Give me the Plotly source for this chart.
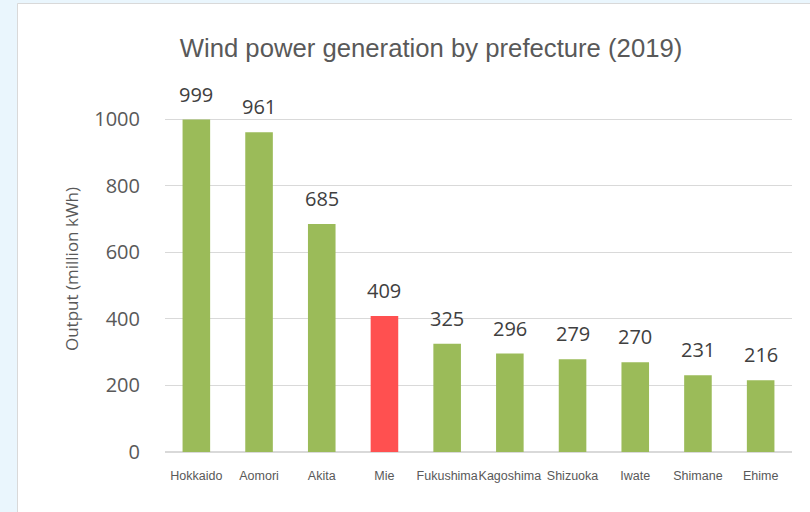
import plotly.graph_objects as go

prefectures = ["Hokkaido", "Aomori", "Akita", "Mie", "Fukushima", "Kagoshima",
               "Shizuoka", "Iwate", "Shimane", "Ehime"]
output_million_kwh = [999, 961, 685, 409, 325, 296, 279, 270, 231, 216]
highlight = "Mie"
y_ticks = [0, 200, 400, 600, 800, 1000]

GREEN = "#9BBB59"
RED = "#FF5050"
colors = [RED if p == highlight else GREEN for p in prefectures]

W, H = 810, 512
L, R, T, B = 165, 18, 86, 60
pw, ph = W - L - R, H - T - B

def fx(px):
    return (px - L) / pw

def fy(py):
    return (H - B - py) / ph

fig = go.Figure(go.Bar(
    x=prefectures,
    y=output_million_kwh,
    marker=dict(color=colors, line=dict(width=0)),
    width=0.44,
))

annotations = [
    dict(x=p, y=v, xref="x", yref="y", text=str(v), showarrow=False,
         yanchor="bottom", yshift=10,
         font=dict(family="Open Sans", size=20, color="#404040"))
    for p, v in zip(prefectures, output_million_kwh)
]

fig.update_layout(
    width=W, height=H,
    margin=dict(l=L, r=R, t=T, b=B, autoexpand=False),
    paper_bgcolor="#EAF6FD",
    plot_bgcolor="rgba(0,0,0,0)",
    showlegend=False,
    annotations=annotations,
    title=dict(
        text="Wind power generation by prefecture (2019)",
        x=431 / W, xanchor="center", xref="container",
        y=1 - 48 / H, yanchor="middle", yref="container",
        font=dict(family="Liberation Sans", size=25.7, color="#595959"),
    ),
    shapes=[dict(
        type="rect", xref="paper", yref="paper",
        x0=fx(17.5), x1=fx(830), y0=fy(530), y1=fy(3.5),
        fillcolor="white", line=dict(color="#D9D9D9", width=1),
        layer="below",
    )],
)

fig.update_xaxes(
    tickangle=0, automargin=False,
    tickfont=dict(family="Liberation Sans", size=12.5, color="#595959"),
    ticks="outside", ticklen=12, tickcolor="rgba(0,0,0,0)",
    showline=False, showgrid=False,
)
fig.update_yaxes(
    range=[0, 1100], automargin=False,
    tickvals=y_ticks,
    tickfont=dict(family="Open Sans", size=20, color="#595959"),
    ticks="outside", ticklen=20, tickcolor="rgba(0,0,0,0)",
    showgrid=True, gridcolor="#D9D9D9", gridwidth=1,
    zeroline=True, zerolinecolor="#D9D9D9", zerolinewidth=2,
    title=dict(text="Output (million kWh)",
               font=dict(family="Open Sans", size=17, color="#595959"),
               standoff=11),
)

fig.write_html(
    "out.html",
    config={"displayModeBar": False},
    post_script="document.body.style.margin='0';document.body.style.background='#EAF6FD';",
)
